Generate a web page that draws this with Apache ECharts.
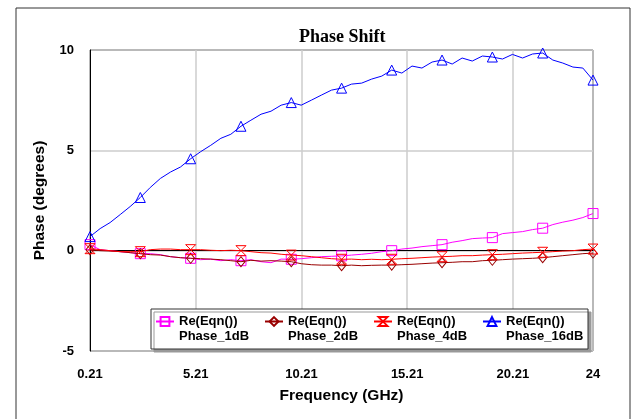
<!DOCTYPE html>
<html>
<head>
<meta charset="utf-8">
<script src="https://cdn.jsdelivr.net/npm/echarts@6/dist/echarts.min.js"></script>
<style>html,body{margin:0;padding:0;background:#fff;}#c{width:632px;height:419px;}</style>
</head>
<body>
<div id="c"></div>
<script>
// Frequency samples (GHz)
const freq = [0.21,0.69,1.16,1.64,2.11,2.59,3.06,3.54,4.02,4.49,4.97,5.44,5.92,6.40,6.87,7.35,7.82,8.30,8.77,9.25,
  9.73,10.20,10.68,11.15,11.63,12.11,12.58,13.06,13.53,14.01,14.48,14.96,15.44,15.91,16.39,16.86,17.34,17.81,18.29,18.77,
  19.24,19.72,20.19,20.67,21.14,21.62,22.10,22.57,23.05,23.52,24.00];

const phase1dB = [0.30,0.05,0.00,-0.05,-0.10,-0.15,-0.15,-0.20,-0.30,-0.35,-0.38,-0.45,-0.42,-0.50,-0.45,-0.50,-0.45,-0.55,-0.60,-0.42,
  -0.43,-0.40,-0.35,-0.30,-0.28,-0.26,-0.22,-0.18,-0.13,-0.05,0.00,0.08,0.13,0.20,0.25,0.30,0.42,0.50,0.60,0.63,
  0.65,0.85,0.90,0.95,1.05,1.12,1.30,1.42,1.52,1.65,1.85];

const phase2dB = [0.05,0.00,-0.02,-0.05,-0.10,-0.15,-0.20,-0.22,-0.30,-0.35,-0.38,-0.40,-0.42,-0.45,-0.50,-0.55,-0.48,-0.52,-0.50,-0.52,
  -0.55,-0.65,-0.70,-0.72,-0.72,-0.75,-0.72,-0.75,-0.73,-0.72,-0.72,-0.70,-0.68,-0.65,-0.62,-0.60,-0.58,-0.55,-0.55,-0.50,
  -0.48,-0.45,-0.42,-0.40,-0.38,-0.35,-0.30,-0.25,-0.20,-0.15,-0.12];

const phase4dB = [0.10,0.05,0.00,-0.05,-0.05,-0.05,0.05,0.08,0.08,0.05,0.05,0.05,0.02,0.00,0.02,0.00,-0.05,-0.10,-0.12,-0.18,
  -0.22,-0.25,-0.30,-0.35,-0.40,-0.43,-0.42,-0.45,-0.43,-0.45,-0.43,-0.40,-0.38,-0.35,-0.32,-0.30,-0.28,-0.25,-0.25,-0.22,
  -0.20,-0.18,-0.15,-0.12,-0.10,-0.08,-0.05,-0.02,0.00,0.05,0.08];

const phase16dB = [0.70,1.10,1.40,1.80,2.20,2.65,3.15,3.60,3.92,4.17,4.58,4.93,5.25,5.60,5.80,6.20,6.50,6.80,6.95,7.25,
  7.38,7.25,7.50,7.75,8.00,8.10,8.30,8.35,8.55,8.70,9.00,8.85,9.20,9.10,9.40,9.50,9.30,9.60,9.45,9.70,
  9.65,9.55,9.78,9.60,9.80,9.85,9.50,9.35,9.15,9.10,8.50];

const xTicks = [0.21, 5.21, 10.21, 15.21, 20.21, 24];
const seriesNames = ['Phase_1dB', 'Phase_2dB', 'Phase_4dB', 'Phase_16dB'];
const legendPrefix = 'Re(Eqn())';

const styles = [
  {color: '#ff00ff', symbol: 'rect', size: 10},
  {color: '#990000', symbol: 'diamond', size: [8, 10]},
  {color: '#ff0000', symbol: 'path://M0,0L10,0L0,10L10,10Z', size: 10},
  {color: '#0000ff', symbol: 'triangle', size: 10}
];
const values = [phase1dB, phase2dB, phase4dB, phase16dB];
const MARK_EVERY = 5;

function buildData(vals) {
  return freq.map((f, i) => i % MARK_EVERY === 0 ? {value: [f, vals[i]]} : {value: [f, vals[i]], symbol: 'none'});
}

const FONT = 'Liberation Sans, Arial, sans-serif';

const chart = echarts.init(document.getElementById('c'), null, {renderer: 'canvas'});
chart.setOption({
  animation: false,
  backgroundColor: '#fff',
  title: {
    text: 'Phase Shift', left: 294, top: 23,
    textStyle: {fontFamily: 'Liberation Serif, Times New Roman, serif', fontWeight: 'bold', fontSize: 18, color: '#000'}
  },
  graphic: [{
    type: 'rect', shape: {x: 16, y: 8, width: 614, height: 440}, silent: true, z: -1,
    style: {fill: 'none', stroke: '#333', lineWidth: 1}
  }],
  grid: {left: 90, right: 39, top: 50, bottom: 68, show: true, borderColor: '#000', borderWidth: 1, backgroundColor: 'transparent'},
  xAxis: {
    type: 'value', min: 0.21, max: 24,
    name: 'Frequency (GHz)', nameLocation: 'middle', nameGap: 37,
    nameTextStyle: {fontFamily: FONT, fontWeight: 'bold', fontSize: 15.5, color: '#000'},
    axisLine: {show: true, lineStyle: {color: '#000', width: 1}},
    axisTick: {show: false, customValues: xTicks},
    axisLabel: {customValues: xTicks, margin: 17, fontFamily: FONT, fontWeight: 'bold', fontSize: 13, color: '#000',
      formatter: v => String(v)},
    splitLine: {show: true, lineStyle: {color: '#cccccc', width: 1.5}}
  },
  yAxis: {
    type: 'value', min: -5, max: 10, interval: 5,
    name: 'Phase (degrees)', nameLocation: 'middle', nameGap: 42,
    nameTextStyle: {fontFamily: FONT, fontWeight: 'bold', fontSize: 15.5, color: '#000'},
    axisLine: {show: true, lineStyle: {color: '#000', width: 1}},
    axisTick: {show: false},
    axisLabel: {margin: 16, fontFamily: FONT, fontWeight: 'bold', fontSize: 13, color: '#000'},
    splitLine: {show: true, lineStyle: {color: '#cccccc', width: 1.5}}
  },
  legend: {
    left: 151, top: 309, orient: 'horizontal',
    itemWidth: 18, itemHeight: 11, itemGap: 6,
    padding: [-10, 3, 5, 4],
    backgroundColor: '#fff', borderColor: '#333', borderWidth: 1,
    shadowColor: '#999', shadowOffsetX: 3, shadowOffsetY: 3, shadowBlur: 0,
    selectedMode: false,
    data: seriesNames,
    formatter: name => '{e| }\n{t|' + legendPrefix + '}\n{t|' + name + '}',
    textStyle: {fontFamily: FONT, fontWeight: 'bold', fontSize: 13, color: '#000', lineHeight: 15, width: 79,
      rich: {
        e: {fontSize: 13, lineHeight: 15},
        t: {fontFamily: FONT, fontWeight: 'bold', fontSize: 13, color: '#000', lineHeight: 15}
      }}
  },
  series: seriesNames.map((n, k) => ({
    name: n, type: 'line', data: buildData(values[k]),
    symbol: styles[k].symbol, symbolSize: styles[k].size, showAllSymbol: true,
    lineStyle: {color: styles[k].color, width: 1},
    itemStyle: {color: 'rgba(255,255,255,0)', borderColor: styles[k].color, borderWidth: 1},
    emphasis: {disabled: true},
    z: 2 + k
  }))
});
</script>
</body>
</html>
